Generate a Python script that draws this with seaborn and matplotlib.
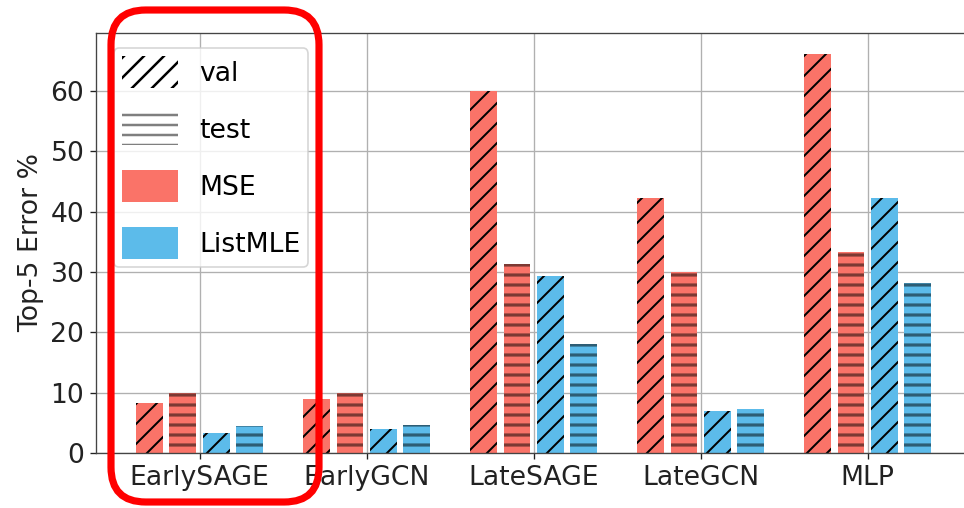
import pandas as pd
import numpy as np
import matplotlib
matplotlib.use('Agg')
import matplotlib.pyplot as plt
from matplotlib.patches import Patch, FancyBboxPatch
import seaborn as sns

plt.rcParams['hatch.linewidth'] = 1.5

models = ['EarlySAGE', 'EarlyGCN', 'LateSAGE', 'LateGCN', 'MLP']
mse_val = [8.3, 9.0, 60.0, 42.2, 66.2]
mse_test = [10.0, 10.0, 31.3, 30.0, 33.3]
listmle_val = [3.3, 3.9, 29.4, 7.0, 42.2]
listmle_test = [4.4, 4.7, 18.1, 7.3, 28.1]

colors = {'MSE': '#FA7368', 'ListMLE': '#5CBBEA'}
hatches = {'val': '//', 'test': '--'}
hatch_lw = {'val': 1.2, 'test': 1.9}

if __name__ == '__main__':
    # long-form frame for seaborn
    series = {('MSE', 'val'): mse_val, ('MSE', 'test'): mse_test,
              ('ListMLE', 'val'): listmle_val, ('ListMLE', 'test'): listmle_test}
    rows = []
    for (loss, split), vals in series.items():
        for m, v in zip(models, vals):
            rows.append([m, f'{loss} {split}', v])
    plot_df = pd.DataFrame(rows, columns=['model', 'combo', 'error'])
    hue_order = ['MSE val', 'MSE test', 'ListMLE val', 'ListMLE test']
    palette = {h: colors[h.split()[0]] for h in hue_order}

    dpi = 120
    f = plt.figure(figsize=(965 / dpi, 508 / dpi), dpi=dpi)
    ax = f.add_axes([96 / 965, 55 / 508, 882 / 965, 420 / 508])

    sns.barplot(ax=ax, data=plot_df, x='model', y='error', hue='combo',
                hue_order=hue_order, palette=palette, order=models,
                width=0.8, gap=0.2, saturation=1, legend=False, errorbar=None)

    for cont, h in zip(ax.containers, hue_order):
        split = h.split()[1]
        for p in cont.patches:
            p.set_hatch(hatches[split])
            p.set_linewidth(0)
            p.set_edgecolor('black' if split == 'val' else (0, 0, 0, 0.5))
            if hasattr(p, 'set_hatch_linewidth'):
                p.set_hatch_linewidth(hatch_lw[split])

    ax.set_xlim(-0.62, 4.66)
    ax.set_ylim(0, 69.6)
    ax.grid(True, color='#b0b0b0', lw=0.8)
    ax.set_axisbelow(True)
    ax.set_xlabel('')
    ax.set_ylabel('Top-5 Error %', fontsize=16, color='#222222')
    ax.tick_params(labelsize=16, colors='#222222')
    for s in ax.spines.values():
        s.set_color('#444444')

    # legend: hatch styles + loss colours
    val_h = Patch(facecolor='white', edgecolor='black', hatch='//', lw=0, label='val')
    test_h = Patch(facecolor='white', edgecolor=(0, 0, 0, 0.5), hatch='--', lw=0, label='test')
    for hh, k in ((val_h, 'val'), (test_h, 'test')):
        if hasattr(hh, 'set_hatch_linewidth'):
            hh.set_hatch_linewidth(hatch_lw[k])
    mse_h = Patch(facecolor=colors['MSE'], label='MSE')
    lmle_h = Patch(facecolor=colors['ListMLE'], label='ListMLE')
    ax.legend(handles=[val_h, test_h, mse_h, lmle_h], loc='upper left',
              fontsize=16, handlelength=2.1, handleheight=1.45,
              labelspacing=0.95, borderpad=0.3, handletextpad=0.8,
              bbox_to_anchor=(0.005, 0.995))

    # red highlight box around the legend / first group
    box = FancyBboxPatch((111 / 965, 6 / 508), 208 / 965, 492 / 508,
                         boxstyle='round,pad=0,rounding_size=0.036',
                         transform=f.transFigure, fill=False,
                         edgecolor='red', lw=4.3, clip_on=False, zorder=10,
                         mutation_aspect=965 / 508)
    f.add_artist(box)

    f.savefig('out.png', dpi=dpi)
